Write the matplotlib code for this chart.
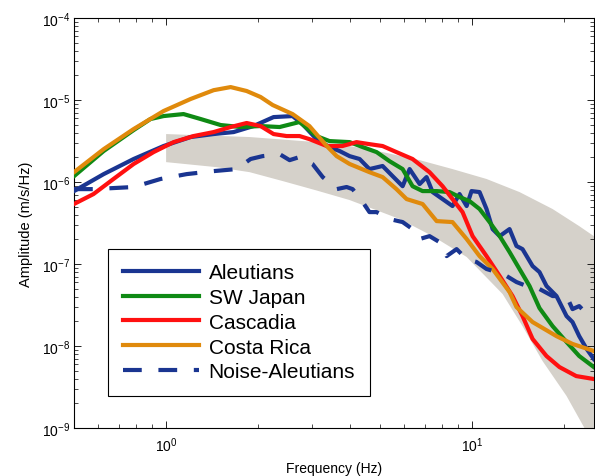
import numpy as np
import matplotlib
matplotlib.use("Agg")
import matplotlib.pyplot as plt
from matplotlib.ticker import NullFormatter

plt.rcParams['font.family'] = ['Liberation Sans', 'DejaVu Sans']
plt.rcParams['mathtext.fontset'] = 'custom'
plt.rcParams['mathtext.rm'] = 'Liberation Sans'

# spectra (Hz, m/s/Hz)
aleutians_f = [0.5, 0.625, 0.783, 0.981, 1.202, 1.43, 1.662, 1.93, 2.245, 2.59, 2.79, 3.10,
               3.42, 3.69, 3.98, 4.29, 4.62, 5.10, 5.50, 5.93, 6.25, 6.74, 7.10, 7.43, 8.01,
               8.63, 9.10, 9.60, 9.96, 10.58, 11.15, 11.67, 12.31, 13.26, 13.97, 14.62, 15.77,
               16.61, 17.51, 18.88, 20.36, 21.3, 22.4, 23.7, 25.0]
aleutians_a = [7.76e-7, 1.25e-6, 1.91e-6, 2.75e-6, 3.54e-6, 3.85e-6, 4.07e-6, 4.82e-6, 6.2e-6,
               6.38e-6, 5.1e-6, 3.34e-6, 2.67e-6, 2.39e-6, 2.07e-6, 1.91e-6, 1.44e-6, 1.57e-6,
               1.18e-6, 8.9e-7, 1.44e-6, 9.45e-7, 1.15e-6, 7.55e-7, 6.2e-7, 5.1e-7, 7.14e-7,
               5.1e-7, 7.76e-7, 7.55e-7, 4.69e-7, 2.67e-7, 2.19e-7, 2.67e-7, 1.66e-7, 1.52e-7,
               9.45e-8, 7.98e-8, 5.4e-8, 4.07e-8, 2.32e-8, 1.96e-8, 1.32e-8, 9.2e-9, 6.94e-9]

japan_f = [0.5, 0.625, 0.783, 0.889, 0.981, 1.14, 1.297, 1.507, 1.75, 2.036, 2.35, 2.73, 3.10,
           3.42, 3.98, 4.39, 4.875, 5.37, 5.93, 6.39, 6.89, 7.66, 8.44, 9.10, 9.81, 10.58,
           11.41, 12.31, 13.26, 14.29, 15.41, 16.61, 18.33, 20.36, 22.4, 25.0]
japan_a = [1.18e-6, 2.39e-6, 4.3e-6, 5.87e-6, 6.38e-6, 6.75e-6, 5.87e-6, 4.96e-6, 4.69e-6,
           4.82e-6, 4.69e-6, 5.4e-6, 3.64e-6, 3.16e-6, 3.07e-6, 2.67e-6, 2.32e-6, 1.80e-6,
           1.44e-6, 8.9e-7, 7.76e-7, 7.76e-7, 7.55e-7, 6.56e-7, 5.86e-7, 4.69e-7, 3.25e-7,
           2.19e-7, 1.40e-7, 8.7e-8, 5.4e-8, 2.9e-8, 1.75e-8, 1.12e-8, 7.55e-9, 5.54e-9]

cascadia_f = [0.5, 0.579, 0.673, 0.783, 0.910, 1.058, 1.23, 1.43, 1.625, 1.833, 2.036, 2.245,
              2.475, 2.73, 2.94, 3.35, 3.77, 4.19, 4.62, 5.10, 5.66, 6.39, 7.26, 8.01, 8.63,
              9.31, 10.04, 11.15, 12.31, 13.56, 14.62, 15.77, 17.51, 19.3, 21.9, 25.0]
cascadia_a = [5.4e-7, 7.14e-7, 1.09e-6, 1.66e-6, 2.32e-6, 3.07e-6, 3.64e-6, 4.07e-6, 4.69e-6,
              5.25e-6, 4.82e-6, 3.85e-6, 3.64e-6, 3.64e-6, 3.34e-6, 2.75e-6, 2.75e-6, 3.07e-6,
              2.9e-6, 2.75e-6, 2.32e-6, 1.91e-6, 1.32e-6, 8.9e-7, 6.2e-7, 4.3e-7, 2.19e-7,
              1.25e-7, 7.14e-8, 4.07e-8, 2.32e-8, 1.22e-8, 7.55e-9, 5.54e-9, 4.3e-9, 3.96e-9]

costa_f = [0.5, 0.625, 0.783, 0.981, 1.202, 1.43, 1.625, 1.833, 2.036, 2.23, 2.59, 2.94, 3.35,
           3.61, 3.98, 4.62, 5.10, 5.66, 6.11, 6.89, 7.66, 8.63, 9.60, 10.58, 11.67, 13.26,
           13.97, 15.77, 18.88, 21.3, 25.0]
costa_a = [1.32e-6, 2.52e-6, 4.43e-6, 7.35e-6, 1.03e-5, 1.32e-5, 1.44e-5, 1.29e-5, 1.09e-5,
           8.7e-6, 6.75e-6, 4.82e-6, 2.75e-6, 2.07e-6, 1.66e-6, 1.32e-6, 1.15e-6, 8.2e-7,
           6.2e-7, 5.4e-7, 3.34e-7, 3.25e-7, 2.02e-7, 1.25e-7, 8.7e-8, 4.56e-8, 2.99e-8,
           1.96e-8, 1.32e-8, 1.06e-8, 8.7e-9]

noise_f = [0.5, 0.579, 0.783, 0.959, 1.167, 1.43, 1.70, 1.888, 2.066, 2.35, 2.533, 2.73, 3.01,
           3.25, 3.61, 3.89, 4.07, 4.39, 4.62, 4.875, 5.37, 5.93, 6.39, 6.74, 7.26, 7.83, 8.26,
           8.90, 9.60, 10.34, 11.15, 12.03, 12.97, 13.97, 15.07, 16.61, 18.33, 20.36, 21.3,
           22.4, 23.7, 25.0]
noise_a = [8.2e-7, 8.2e-7, 8.7e-7, 1.09e-6, 1.25e-6, 1.36e-6, 1.44e-6, 1.91e-6, 2.07e-6,
           2.19e-6, 1.85e-6, 2.02e-6, 1.66e-6, 1.15e-6, 8.2e-7, 8.7e-7, 8.2e-7, 5.7e-7, 4.3e-7,
           4.3e-7, 3.54e-7, 3.25e-7, 2.67e-7, 2.02e-7, 2.19e-7, 1.85e-7, 1.25e-7, 1.52e-7,
           1.15e-7, 1.06e-7, 8.7e-8, 7.98e-8, 7.14e-8, 6.03e-8, 5.4e-8, 4.96e-8, 4.07e-8,
           4.07e-8, 2.82e-8, 3.07e-8, 2.46e-8, 2.26e-8]

# model band (upper and lower edges)
band_up_f = [1.0, 1.875, 3.10, 3.98, 5.10, 6.74, 8.63, 11.15, 14.29, 18.33, 22.4, 25.0]
band_up_a = [3.85e-6, 3.54e-6, 3.07e-6, 2.75e-6, 2.32e-6, 1.85e-6, 1.44e-6, 1.09e-6, 7.55e-7,
             4.69e-7, 2.9e-7, 2.19e-7]
band_lo_f = [1.0, 1.46, 1.875, 2.40, 3.10, 3.98, 5.80, 7.43, 9.60, 12.59, 14.62, 17.0, 20.36,
             23.3, 25.0]
band_lo_a = [1.75e-6, 1.52e-6, 1.32e-6, 1.03e-6, 7.9e-7, 6.03e-7, 3.54e-7, 2.19e-7, 1.22e-7,
             4.3e-8, 1.75e-8, 6.56e-9, 2.46e-9, 1e-9, 5e-10]

fig = plt.figure(figsize=(5.95, 4.77), dpi=100)
ax = fig.add_axes([0.1244, 0.1006, 0.8736, 0.8594])

poly_f = band_up_f + band_lo_f[::-1]
poly_a = band_up_a + band_lo_a[::-1]
ax.fill(poly_f, poly_a, color='#d5d1ca', lw=0, zorder=1)

lw = 3.0
ax.plot(aleutians_f, aleutians_a, color='#1a3591', lw=lw, label='Aleutians', zorder=3)
ax.plot(japan_f, japan_a, color='#0f8a14', lw=lw, label='SW Japan', zorder=3)
ax.plot(cascadia_f, cascadia_a, color='#ff1010', lw=lw, label='Cascadia', zorder=3)
ax.plot(costa_f, costa_a, color='#e08a0c', lw=lw, label='Costa Rica', zorder=3)
ax.plot(noise_f, noise_a, color='#1a3591', lw=lw, ls=(0, (4.5, 4)), label='Noise-Aleutians', zorder=3)

ax.set_xscale('log')
ax.set_yscale('log')
ax.set_xlim(0.5, 25)
ax.set_ylim(1e-9, 1e-4)
ax.xaxis.set_minor_formatter(NullFormatter())
ax.yaxis.set_minor_formatter(NullFormatter())

ax.tick_params(which='both', direction='in', top=True, right=True, labelsize=10)
ax.tick_params(which='major', length=5, width=0.6)
ax.tick_params(which='minor', length=3, width=0.5)
ax.tick_params(axis='x', pad=5)
ax.tick_params(axis='y', pad=3)
for s in ax.spines.values():
    s.set_linewidth(0.8)

ax.set_xlabel('Frequency (Hz)', fontsize=10, labelpad=5)
ax.set_ylabel('Amplitude (m/s/Hz)', fontsize=10.5, labelpad=6)

leg = ax.legend(loc='lower left', bbox_to_anchor=(0.0654, 0.078), borderaxespad=0,
                fontsize=15, fancybox=False, edgecolor='black', framealpha=1,
                handlelength=3.65, handletextpad=0.48, labelspacing=0.28, borderpad=0.7)
leg.get_frame().set_linewidth(0.8)

fig.savefig('out.png', dpi=100)
